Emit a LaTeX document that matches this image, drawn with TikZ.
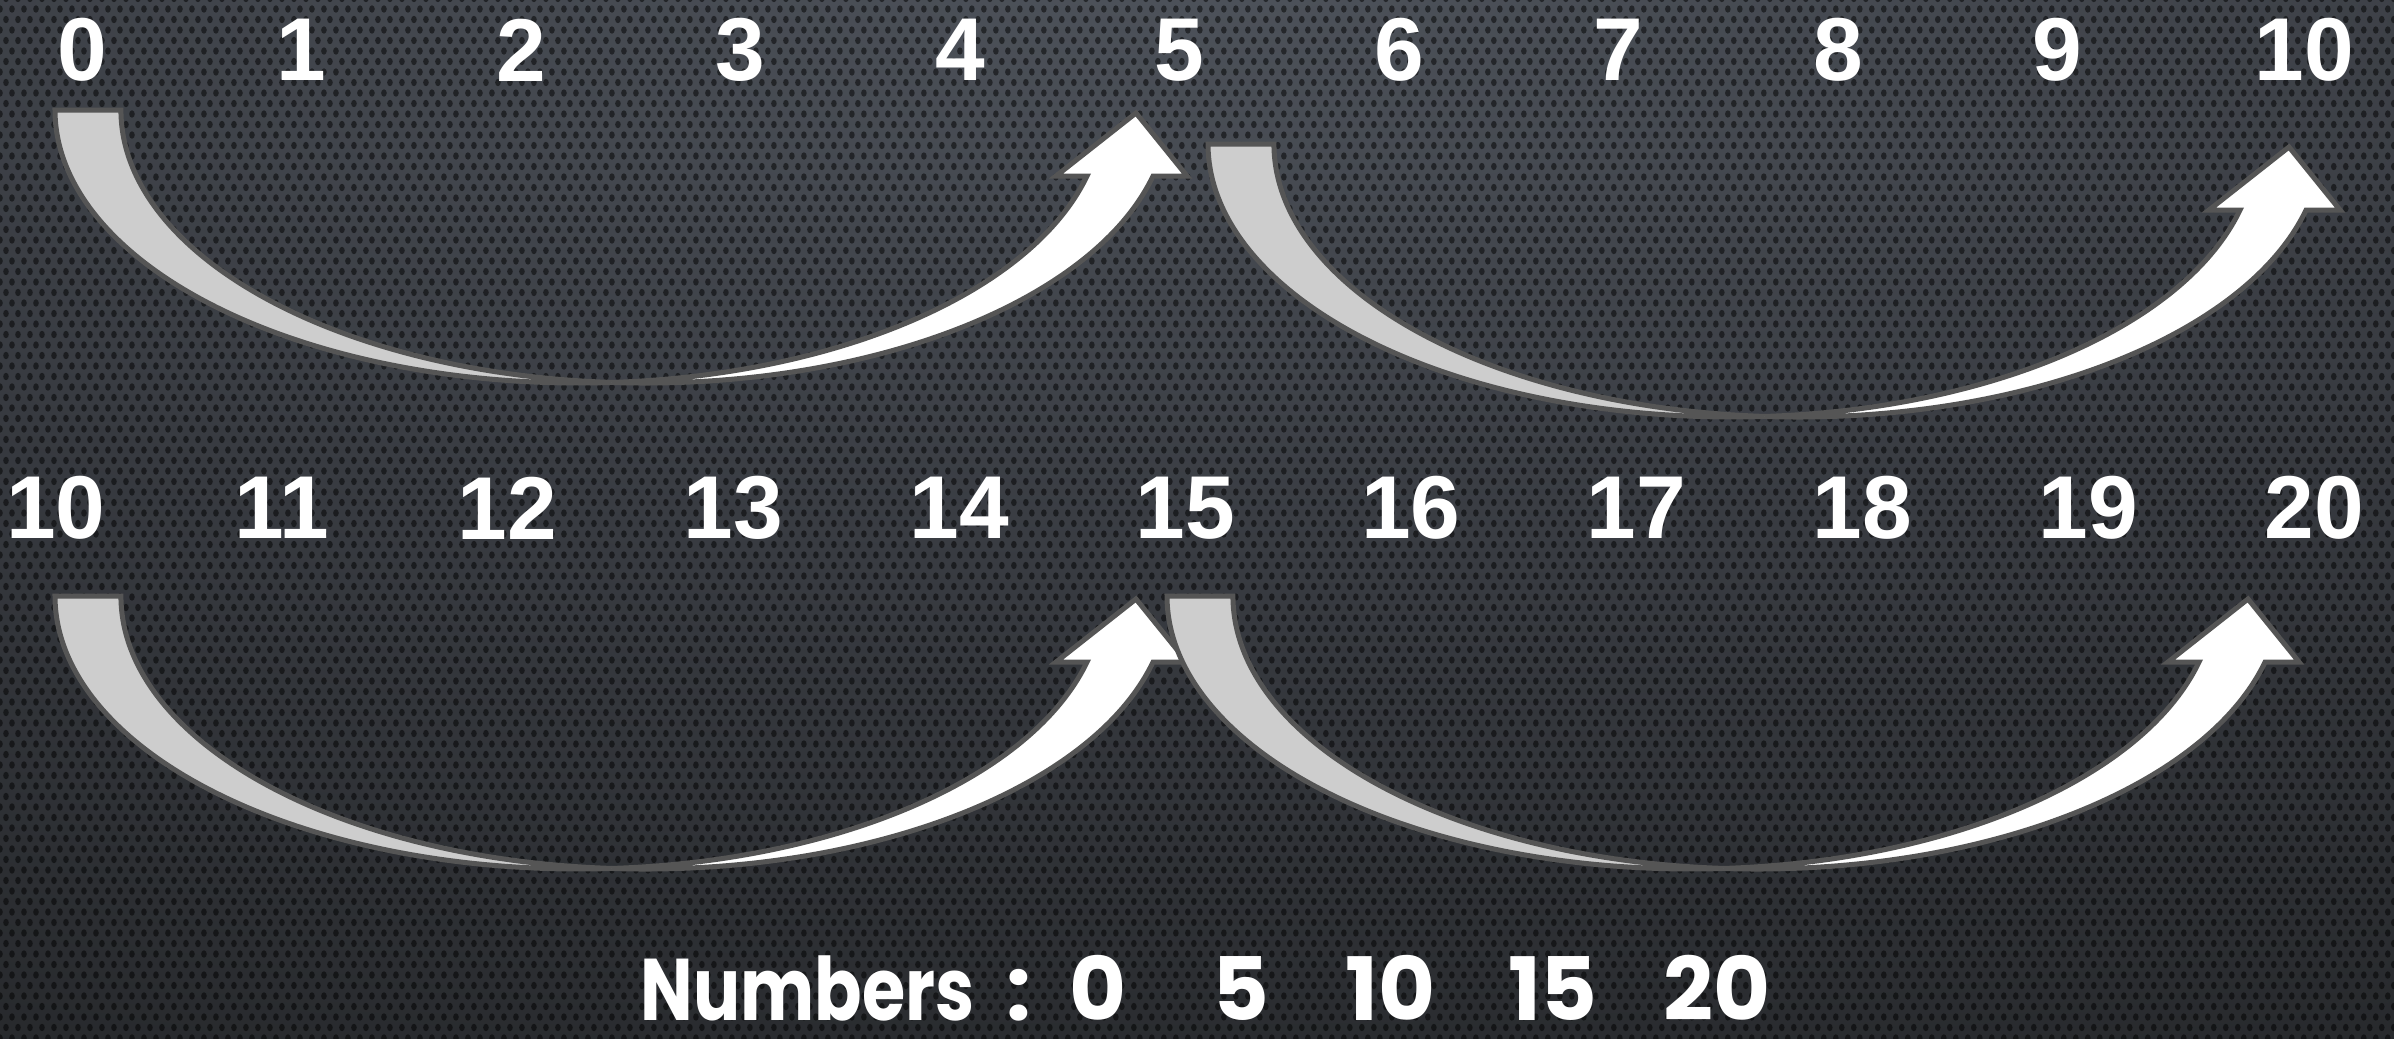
\documentclass[tikz,border=0pt]{standalone}
\usepackage{fontspec}
\setmainfont{Liberation Sans}
\newfontfamily\geofont{Poppins}
\usetikzlibrary{patterns}
\definecolor{bgtop}{HTML}{4E535B}
\definecolor{bgmid}{HTML}{383B41}
\definecolor{bglow}{HTML}{26282B}
\definecolor{bgbot}{HTML}{161618}
\definecolor{armgray}{HTML}{CDCDCD}
\definecolor{armedge}{HTML}{555555}

\pgfdeclareradialshading{bgglow}{\pgfpoint{0bp}{0bp}}{%
  color(0bp)=(bgtop); color(8bp)=(bgmid); color(16bp)=(bglow);
  color(25bp)=(bgbot); color(50bp)=(bgbot)}
\pgfdeclarepatternformonly{perforated}{\pgfqpoint{-1.5pt}{-1.5pt}}{\pgfqpoint{4pt}{6pt}}%
  {\pgfqpoint{3.414pt}{5.975pt}}{%
  \pgfpathellipse{\pgfqpoint{0pt}{0pt}}{\pgfqpoint{0.8pt}{0pt}}{\pgfqpoint{0pt}{1.05pt}}%
  \pgfpathellipse{\pgfqpoint{1.707pt}{2.988pt}}{\pgfqpoint{0.8pt}{0pt}}{\pgfqpoint{0pt}{1.05pt}}%
  \pgfusepath{fill}}

% one jump of five, drawn at the place of the first one and shifted
\newcommand{\jumparrow}[1]{%
  \begin{scope}[shift={#1}]
    \filldraw[backpart] (55,110)
      arc[start angle=180, end angle=86.39, x radius=523.8, y radius=273]
      arc[start angle=93.61, end angle=180, x radius=523.8, y radius=273] -- cycle;
    \filldraw[frontpart] (611.8,382.46)
      arc[start angle=93.61, end angle=13.99, x radius=523.8, y radius=273]
      -- (1187,176) -- (1136,113) -- (1056,176) -- (1087,176)
      arc[start angle=13.99, end angle=86.39, x radius=523.8, y radius=273] -- cycle;
  \end{scope}}

\begin{document}
\begin{tikzpicture}[
    x=0.1mm, y=-0.1mm,
    num/.style={text=white, inner sep=0pt,
                font=\fontsize{25.4}{30}\selectfont\bfseries},
    summary/.style={text=white, inner sep=0pt,
                font=\geofont\fontsize{24.9}{30}\selectfont\bfseries},
    backpart/.style={fill=armgray, draw=armedge, line width=0.5mm},
    frontpart/.style={fill=white, draw=armedge, line width=0.5mm}
  ]
  % background
  \fill[bgbot] (0,0) rectangle (2394,1038);
  \begin{scope}
    \clip (0,0) rectangle (2394,1038);
    \shade[shading=bgglow] (1197,-40) ellipse (5000 and 1900);
    \fill[pattern=perforated, pattern color=black, opacity=0.5]
      (0,0) rectangle (2394,1038);
  \end{scope}
  \useasboundingbox (0,0) rectangle (2394,1038);

  % first line
  \node[num] (t0) at (82,50) {0};
  \node[num] (t1) at (301.5,50) {1};
  \node[num] (t2) at (521,50) {2};
  \node[num] (t3) at (740.5,50) {3};
  \node[num] (t4) at (960,50) {4};
  \node[num] (t5) at (1179.5,50) {5};
  \node[num] (t6) at (1399,50) {6};
  \node[num] (t7) at (1618.5,50) {7};
  \node[num] (t8) at (1838,50) {8};
  \node[num] (t9) at (2057.5,50) {9};
  \node[num] (t10) at (2304,50) {10};

  \jumparrow{(0,0)}
  \jumparrow{(1153,34)}

  % second line
  \node[num] (b10) at (56,508) {10};
  \node[num] (b11) at (281.8,508) {11};
  \node[num] (b12) at (507.6,508) {12};
  \node[num] (b13) at (733.4,508) {13};
  \node[num] (b14) at (959.2,508) {14};
  \node[num] (b15) at (1185,508) {15};
  \node[num] (b16) at (1410.8,508) {16};
  \node[num] (b17) at (1636.6,508) {17};
  \node[num] (b18) at (1862.4,508) {18};
  \node[num] (b19) at (2088.2,508) {19};
  \node[num] (b20) at (2314,508) {20};

  \jumparrow{(0,486)}
  \jumparrow{(1112,486)}

  \node[summary, anchor=base west] (result) at (640,1020)
    {{\addfontfeature{FakeStretch=0.8}Numbers}\hspace{3.2mm}:\hspace{3.8mm}0%
     \hspace{8.6mm}5\hspace{7.6mm}10\hspace{7.3mm}15\hspace{6.6mm}20};
\end{tikzpicture}
\end{document}
